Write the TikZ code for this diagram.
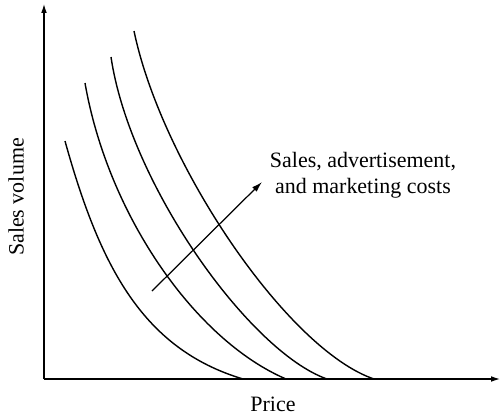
\documentclass[tikz,border=0pt]{standalone}
\usepackage{fontspec}
\setmainfont{Liberation Serif}
\usetikzlibrary{arrows.meta}
\begin{document}
\begin{tikzpicture}[x=0.02cm, y=-0.02cm,
  axis/.style={line width=0.7pt, -{Latex[length=5pt,width=3.2pt]}},
  curve/.style={line width=0.8pt},
  lbl/.style={font=\fontsize{12.5}{15}\selectfont, inner sep=0pt},
]
\useasboundingbox (0,0) rectangle (500,416);
\coordinate (O) at (44,379);
\coordinate (ytop) at (44,4);
\coordinate (xend) at (500,379);
\draw[axis] (O) -- (ytop);
\draw[axis] (O) -- (xend);
% demand curves
\draw[curve] (65,141) .. controls (100,267) and (143,349) .. (243,379);
\draw[curve] (85,83) .. controls (108,215) and (195,340) .. (286,379);
\draw[curve] (111,57) .. controls (130,185) and (250,352) .. (327,379);
\draw[curve] (134,31) .. controls (162,165) and (288,350) .. (374,379);
% shift arrow
\coordinate (atail) at (152,291);
\coordinate (ahead) at (262,182);
\draw[line width=0.7pt, -{Latex[length=6pt,width=3.6pt]}] (atail) -- (ahead);
\node[lbl, align=center] (costs) at (363,175) {Sales, advertisement,\\and marketing costs};
\node[lbl] (price) at (273,404) {Price};
\node[lbl, rotate=90] (vol) at (16,197) {Sales volume};
\end{tikzpicture}
\end{document}
